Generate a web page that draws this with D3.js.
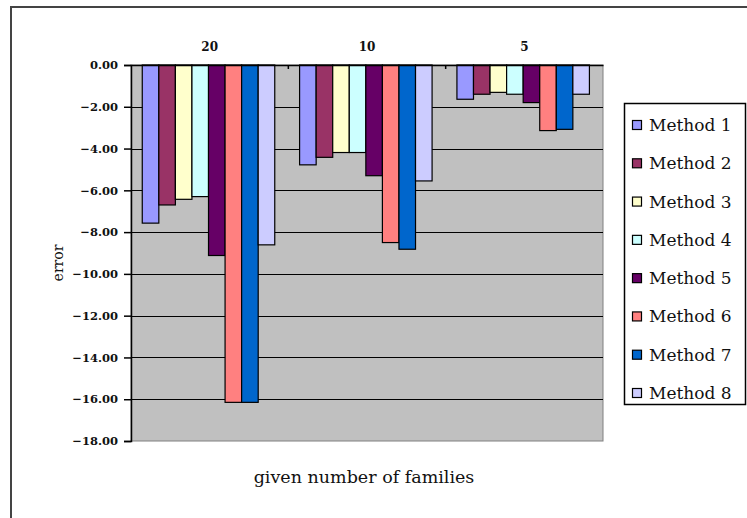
<!DOCTYPE html>
<html>
<head>
<meta charset="utf-8">
<script src="https://cdn.jsdelivr.net/npm/d3@7"></script>
<style>
  html, body { margin: 0; padding: 0; background: #fff; }
  svg { display: block; }
</style>
</head>
<body>
<svg id="chart" width="747" height="518"></svg>
<script>
// Error per method, grouped by the given number of families
const categories = ["20", "10", "5"];
const methods = ["Method 1", "Method 2", "Method 3", "Method 4", "Method 5", "Method 6", "Method 7", "Method 8"];
const method1 = [-7.57, -4.78, -1.64];
const method2 = [-6.70, -4.42, -1.40];
const method3 = [-6.43, -4.19, -1.31];
const method4 = [-6.30, -4.19, -1.40];
const method5 = [-9.12, -5.30, -1.80];
const method6 = [-16.15, -8.50, -3.14];
const method7 = [-16.15, -8.82, -3.08];
const method8 = [-8.61, -5.55, -1.40];
const yTicks = [0, -2, -4, -6, -8, -10, -12, -14, -16, -18];
const colors = ["#9999FF", "#993366", "#FFFFCC", "#CCFFFF", "#660066", "#FF8080", "#0066CC", "#CCCCFF"];

const series = [method1, method2, method3, method4, method5, method6, method7, method8];
const SERIF = "'DejaVu Serif', serif";

const svg = d3.select("#chart");

// outer chart frame
svg.append("rect")
  .attr("x", 11).attr("y", 7).attr("width", 745).attr("height", 520)
  .attr("fill", "#fff").attr("stroke", "#444").attr("stroke-width", 2);

const plot = { left: 131, top: 65, right: 603, bottom: 441 };

const x0 = d3.scaleBand().domain(categories).range([plot.left, plot.right]);
const bw = x0.bandwidth() / 9.5;
// eight touching bars per category, slightly left of centre
const x1 = d3.scaleBand().domain(methods).range([bw * 0.68, bw * 8.68]);

const y = d3.scaleLinear().domain([0, -18]).range([plot.top, plot.bottom]);

// plot area
svg.append("rect")
  .attr("x", plot.left).attr("y", plot.top)
  .attr("width", plot.right - plot.left).attr("height", plot.bottom - plot.top)
  .attr("fill", "#C0C0C0").attr("stroke", "#808080").attr("stroke-width", 1);

// horizontal gridlines
svg.append("g").selectAll("line")
  .data(yTicks.filter(t => t !== 0 && t !== -18))
  .join("line")
  .attr("x1", plot.left).attr("x2", plot.right)
  .attr("y1", d => Math.round(y(d)) + 0.5).attr("y2", d => Math.round(y(d)) + 0.5)
  .attr("stroke", "#000").attr("stroke-width", 1.2);

// bars
const groups = svg.append("g").selectAll("g")
  .data(categories)
  .join("g")
  .attr("transform", c => `translate(${x0(c)},0)`);

groups.selectAll("rect")
  .data((c, ci) => methods.map((m, mi) => ({ m, v: series[mi][ci], color: colors[mi] })))
  .join("rect")
  .attr("x", d => x1(d.m))
  .attr("y", y(0))
  .attr("width", x1.bandwidth())
  .attr("height", d => y(d.v) - y(0))
  .attr("fill", d => d.color)
  .attr("stroke", "#000").attr("stroke-width", 1.2);

// value axis (left)
const yAxis = d3.axisLeft(y).tickValues(yTicks).tickSize(7).tickPadding(6)
  .tickFormat(d => d3.format(".2f")(d));
const gy = svg.append("g").attr("transform", `translate(${plot.left},0)`).call(yAxis);
gy.attr("font-family", null);
gy.select(".domain").attr("stroke", "#000").attr("stroke-width", 1.5);
gy.selectAll(".tick line").attr("stroke", "#000").attr("stroke-width", 1.5);
gy.selectAll(".tick text")
  .style("font-family", SERIF)
  .style("font-size", "11.5px").style("font-weight", "bold")
  .attr("fill", "#111");

// category axis along the zero line (top)
const xAxis = d3.axisTop(x0).tickSize(0).tickPadding(14);
const gx = svg.append("g").attr("transform", `translate(0,${plot.top})`).call(xAxis);
gx.attr("font-family", null);
gx.select(".domain").attr("stroke", "#000").attr("stroke-width", 1.5);
gx.selectAll(".tick text")
  .style("font-family", SERIF)
  .style("font-size", "12px").style("font-weight", "bold")
  .attr("fill", "#111");
// small separators between categories
gx.append("g").selectAll("line")
  .data(categories.slice(1))
  .join("line")
  .attr("x1", c => x0(c)).attr("x2", c => x0(c))
  .attr("y1", 0).attr("y2", 4)
  .attr("stroke", "#000").attr("stroke-width", 1.5);

// axis titles
svg.append("text")
  .attr("transform", `translate(63,${(plot.top + plot.bottom) / 2 + 10}) rotate(-90)`)
  .attr("text-anchor", "middle")
  .style("font-family", SERIF).style("font-size", "14px")
  .attr("fill", "#111")
  .text("error");

svg.append("text")
  .attr("x", (plot.left + plot.right) / 2 - 3).attr("y", 483)
  .attr("text-anchor", "middle")
  .style("font-family", SERIF).style("font-size", "17.5px")
  .attr("fill", "#111")
  .text("given number of families");

// legend
const legend = svg.append("g");
legend.append("rect")
  .attr("x", 624.5).attr("y", 103.5).attr("width", 121).attr("height", 301)
  .attr("fill", "#fff").attr("stroke", "#000").attr("stroke-width", 1.5);

const ly = d3.scalePoint().domain(methods).range([125, 393]);
const items = legend.selectAll("g.item")
  .data(methods.map((m, i) => ({ m, color: colors[i] })))
  .join("g").attr("class", "item")
  .attr("transform", d => `translate(0,${ly(d.m)})`);
items.append("rect")
  .attr("x", 632.5).attr("y", -4.5).attr("width", 9).attr("height", 9)
  .attr("fill", d => d.color).attr("stroke", "#000").attr("stroke-width", 1.2);
items.append("text")
  .attr("x", 649).attr("y", 6)
  .style("font-family", SERIF).style("font-size", "17px")
  .attr("fill", "#111")
  .text(d => d.m);
</script>
</body>
</html>
